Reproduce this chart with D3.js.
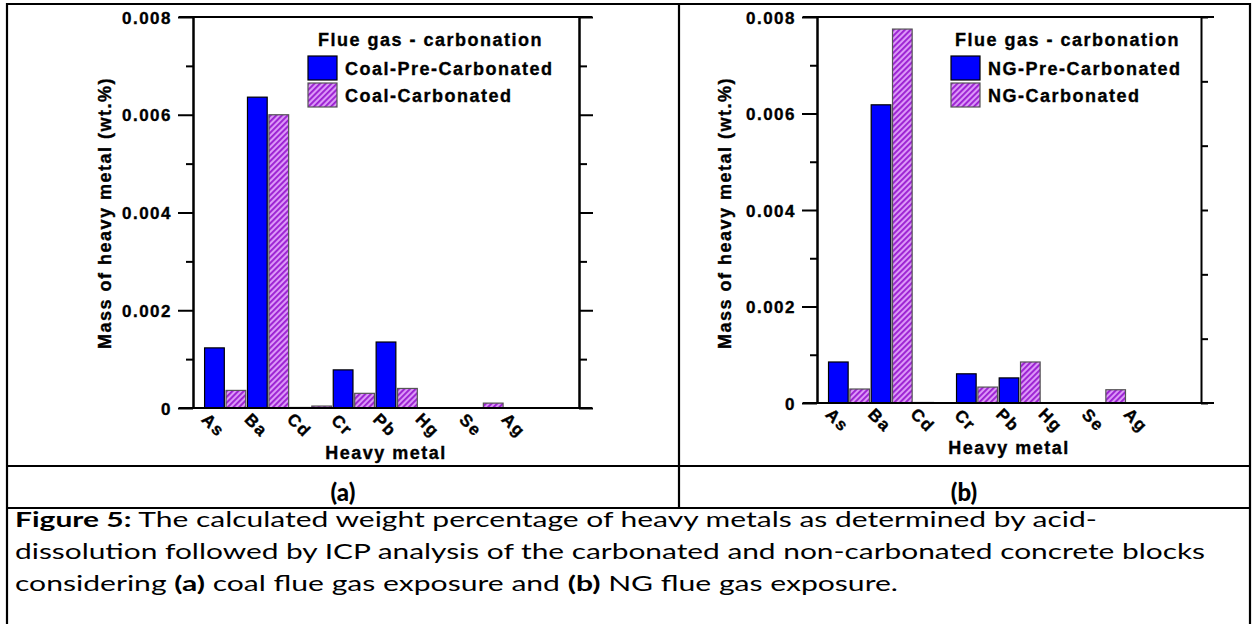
<!DOCTYPE html>
<html>
<head>
<meta charset="utf-8">
<script src="https://cdnjs.cloudflare.com/ajax/libs/d3/7.8.5/d3.min.js"></script>
<style>
	body { margin: 0; background: #fff; }
	svg { display: block; }
	.lbl { font-family: "Liberation Sans", Arial, sans-serif; font-weight: bold; letter-spacing: 1.5px; fill: #000; stroke: #000; stroke-width: 0.35px; }
	.cap { font-family: Lato, "Open Sans", sans-serif; fill: #000; }
</style>
</head>
<body>
<svg id="fig" width="1253" height="624"></svg>
<script>
// values (wt.%)
var metals = ["As", "Ba", "Cd", "Cr", "Pb", "Hg", "Se", "Ag"];
var coalPre  = [0.00123, 0.00636, 0.00001, 0.00078, 0.00135, 0, 0, 0];
var coalCarb = [0.00036, 0.00600, 0.00004, 0.00030, 0.00040, 0, 0.00010, 0];
var ngPre    = [0.00085, 0.00618, 0.00001, 0.000605, 0.00052, 0, 0, 0];
var ngCarb   = [0.00029, 0.00775, 0, 0.00033, 0.00085, 0, 0.000275, 0];
var yTicks = [0, 0.002, 0.004, 0.006, 0.008];
var yMinor = [0.001, 0.003, 0.005, 0.007];
var rightTicksB = [0, 1, 2, 3, 4, 5, 6];

(function(){
	'use strict';

	var svg = d3.select("#fig");
	var blue = "#0000ff";

	var defs = svg.append("defs");
	var pat = defs.append("pattern")
		.attr("id", "hatch")
		.attr("patternUnits", "userSpaceOnUse")
		.attr("width", 4).attr("height", 4)
		.attr("patternTransform", "rotate(45)");
	pat.append("rect").attr("width", 4).attr("height", 4).attr("fill", "#dc98f8");
	pat.append("rect").attr("width", 1.9).attr("height", 4).attr("fill", "#9b20d2");

	// table frame
	var frame = svg.append("g").attr("stroke", "#000").attr("stroke-width", 2.2);
	frame.append("line").attr("x1", 6).attr("x2", 1251).attr("y1", 4).attr("y2", 4);
	frame.append("line").attr("x1", 7).attr("x2", 7).attr("y1", 3).attr("y2", 624);
	frame.append("line").attr("x1", 1250).attr("x2", 1250).attr("y1", 3).attr("y2", 624);
	frame.append("line").attr("x1", 679).attr("x2", 679).attr("y1", 3).attr("y2", 508);
	frame.append("line").attr("x1", 6).attr("x2", 1251).attr("y1", 466).attr("y2", 466);
	frame.append("line").attr("x1", 6).attr("x2", 1251).attr("y1", 508).attr("y2", 508);

	drawPanel({
		left: 193, right: 579, top: 17, bottom: 408,
		pre: coalPre, carb: coalCarb,
		names: ["Coal-Pre-Carbonated", "Coal-Carbonated"],
		legX: 308, titleX: 318, yLabelX: 105,
		rightMajor: 14, rightMinor: 8
	});

	drawPanel({
		left: 817, right: 1201, top: 17, bottom: 403,
		pre: ngPre, carb: ngCarb,
		names: ["NG-Pre-Carbonated", "NG-Carbonated"],
		legX: 951, titleX: 955, yLabelX: 725,
		ownRight: true
	});

	function drawPanel(c){
		var x = d3.scaleLinear().domain([0.5, metals.length + 1.5]).range([c.left, c.right]);
		var y = d3.scaleLinear().domain([0, 0.008]).range([c.bottom, c.top]);
		var g = svg.append("g");

		var rows = metals.map(function(m, i){ return {name: m, i: i + 1, pre: c.pre[i], carb: c.carb[i]}; });

		// bars
		g.selectAll(".pre").data(rows).enter().append("rect")
			.attr("x", function(d){ return x(d.i - 0.23); })
			.attr("width", function(d){ return x(d.i + 0.23) - x(d.i - 0.23); })
			.attr("y", function(d){ return y(d.pre); })
			.attr("height", function(d){ return y(0) - y(d.pre); })
			.attr("fill", blue).attr("stroke", "#000").attr("stroke-width", 1.2);

		g.selectAll(".carb").data(rows).enter().append("rect")
			.attr("x", function(d){ return x(d.i + 0.27); })
			.attr("width", function(d){ return x(d.i + 0.73) - x(d.i + 0.27); })
			.attr("y", function(d){ return y(d.carb); })
			.attr("height", function(d){ return y(0) - y(d.carb); })
			.attr("fill", "url(#hatch)").attr("stroke", "#555").attr("stroke-width", 1.2);

		// left axis
		var fmt = function(d){ return d === 0 ? "0" : d3.format(".3f")(d); };
		var ax = g.append("g").attr("transform", "translate(" + c.left + ",0)");
		ax.call(d3.axisLeft(y).tickValues(yTicks).tickSize(15).tickSizeOuter(0).tickPadding(6).tickFormat(fmt));
		ax.append("g").call(d3.axisLeft(y).tickValues(yMinor).tickSize(7).tickSizeOuter(0).tickFormat(""));
		ax.selectAll("path, line").attr("stroke", "#000").attr("stroke-width", 2);
		ax.selectAll("text").attr("class", "lbl").attr("font-size", 17).attr("font-family", null).attr("dy", "0.36em");

		// right axis
		var ar = g.append("g").attr("transform", "translate(" + c.right + ",0)");
		if(c.ownRight){
			var y2 = d3.scaleLinear().domain([0, 6]).range([c.bottom, c.top]);
			ar.call(d3.axisRight(y2).tickValues(rightTicksB).tickSize(7).tickSizeOuter(0).tickFormat(""));
		} else {
			ar.call(d3.axisRight(y).tickValues(yTicks).tickSize(c.rightMajor).tickSizeOuter(0).tickFormat(""));
			ar.append("g").call(d3.axisRight(y).tickValues(yMinor).tickSize(c.rightMinor).tickSizeOuter(0).tickFormat(""));
		}
		ar.selectAll("path, line").attr("stroke", "#000").attr("stroke-width", 2);

		// top and bottom lines
		[0, 0.008].forEach(function(v){
			g.append("line")
				.attr("x1", c.left - 14).attr("x2", c.right + 13)
				.attr("y1", y(v)).attr("y2", y(v))
				.attr("stroke", "#000").attr("stroke-width", 2);
		});

		// category labels, turned 45 deg
		g.selectAll(".xl").data(rows).enter().append("text")
			.attr("class", "lbl")
			.attr("font-size", 17)
			.attr("text-anchor", "middle")
			.attr("dy", "0.35em")
			.attr("transform", function(d){ return "translate(" + (x(d.i) - 1) + "," + (y(0) + 17) + ") rotate(45)"; })
			.text(function(d){ return d.name; });

		g.append("text").attr("class", "lbl").attr("font-size", 18)
			.attr("text-anchor", "middle")
			.attr("x", (c.left + c.right) / 2)
			.attr("y", y(0) + 51)
			.text("Heavy metal");

		g.append("text").attr("class", "lbl").attr("font-size", 18)
			.attr("text-anchor", "middle")
			.attr("transform", "translate(" + c.yLabelX + "," + 213 + ") rotate(-90)")
			.attr("dy", "0.35em")
			.text("Mass of heavy metal (wt.%)");

		// legend
		g.append("text").attr("class", "lbl").attr("font-size", 18)
			.attr("x", c.titleX).attr("y", 46)
			.text("Flue gas - carbonation");

		var leg = g.selectAll(".leg").data(c.names).enter().append("g")
			.attr("transform", function(d, i){ return "translate(" + c.legX + "," + (56 + i * 27) + ")"; });
		leg.append("rect").attr("width", 29).attr("height", 24)
			.attr("fill", function(d, i){ return i === 0 ? blue : "url(#hatch)"; })
			.attr("stroke", function(d, i){ return i === 0 ? "#000" : "#555"; })
			.attr("stroke-width", 1.2);
		leg.append("text").attr("class", "lbl").attr("font-size", 18)
			.attr("x", 37).attr("y", 18.5)
			.text(function(d){ return d; });
	}

	// panel captions
	svg.append("text").attr("class", "cap").attr("font-size", 24).attr("font-weight", 900)
		.attr("text-anchor", "middle").attr("x", 343).attr("y", 501).text("(a)");
	svg.append("text").attr("class", "cap").attr("font-size", 24).attr("font-weight", 900)
		.attr("text-anchor", "middle").attr("x", 964).attr("y", 501).text("(b)");

	// figure caption
	var lines = [
		{w: 1082, parts: [["Figure 5:", true], [" The calculated weight percentage of heavy metals as determined by acid-", false]]},
		{w: 1190, parts: [["dissolution followed by ICP analysis of the carbonated and non-carbonated concrete blocks", false]]},
		{w: 883, parts: [["considering ", false], ["(a)", true], [" coal flue gas exposure and ", false], ["(b)", true], [" NG flue gas exposure.", false]]}
	];
	lines.forEach(function(l, i){
		var t = svg.append("text").attr("class", "cap").attr("font-size", 21)
			.attr("x", 15).attr("y", 527 + i * 32)
			.attr("textLength", l.w).attr("lengthAdjust", "spacingAndGlyphs");
		l.parts.forEach(function(p){
			t.append("tspan").attr("font-weight", p[1] ? "bold" : null).text(p[0]);
		});
	});
})();
</script>
</body>
</html>
